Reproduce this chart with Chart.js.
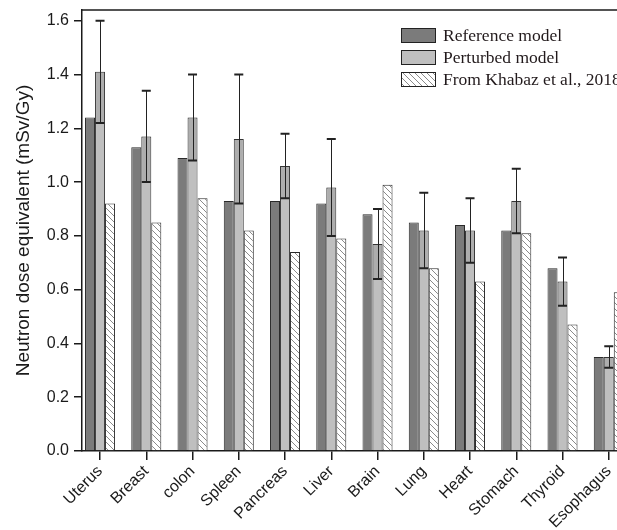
<!DOCTYPE html>
<html>
<head>
<meta charset="utf-8">
<script src="https://cdn.jsdelivr.net/npm/chart.js@4/dist/chart.umd.min.js"></script>
<style>
html,body{margin:0;padding:0;background:#fff;overflow:hidden;width:617px;height:530px;}
canvas{display:block;}
</style>
</head>
<body>
<canvas id="c" width="617" height="530"></canvas>
<script>
// ---- data ----
const categories = ["Uterus","Breast","colon","Spleen","Pancreas","Liver","Brain","Lung","Heart","Stomach","Thyroid","Esophagus"];
const referenceModel = [1.24,1.13,1.09,0.93,0.93,0.92,0.88,0.85,0.84,0.82,0.68,0.35];
const perturbedModel = [1.41,1.17,1.24,1.16,1.06,0.98,0.77,0.82,0.82,0.93,0.63,0.35];
const perturbedError = [0.19,0.17,0.16,0.24,0.12,0.18,0.13,0.14,0.12,0.12,0.09,0.04];
const khabaz2018     = [0.92,0.85,0.94,0.82,0.74,0.79,0.99,0.68,0.63,0.81,0.47,0.59];
const seriesNames = ["Reference model","Perturbed model","From Khabaz et al., 2018"];
const yTicks = [0,0.2,0.4,0.6,0.8,1.0,1.2,1.4,1.6];
const yTitle = "Neutron dose equivalent (mSv/Gy)";

// ---- hatch pattern ----
function makeHatch(){
  const s = 6, pc = document.createElement('canvas');
  pc.width = s; pc.height = s;
  const p = pc.getContext('2d');
  p.fillStyle = '#ffffff'; p.fillRect(0,0,s,s);
  p.strokeStyle = '#8a8a8a'; p.lineWidth = 1;
  p.beginPath();
  p.moveTo(0,0); p.lineTo(s,s);
  p.moveTo(-1,s-1); p.lineTo(1,s+1);
  p.moveTo(s-1,-1); p.lineTo(s+1,1);
  p.stroke();
  return document.getElementById('c').getContext('2d').createPattern(pc,'repeat');
}
const hatch = makeHatch();

const DARK = '#7b7b7b', LIGHT = '#bfbfbf', EDGE = '#2a2a2a';

const errorBars = {
  id:'errorBars',
  afterDatasetsDraw(chart){
    const ctx = chart.ctx, y = chart.scales.y;
    const meta = chart.getDatasetMeta(1);
    ctx.save();
    meta.data.forEach((bar,i)=>{
      const v = perturbedModel[i], e = perturbedError[i];
      const yTop = y.getPixelForValue(v+e), yLow = y.getPixelForValue(v-e), yv = y.getPixelForValue(v);
      const w = bar.width;
      ctx.fillStyle = 'rgba(0,0,0,0.09)';
      ctx.fillRect(bar.x - w/2 + 0.5, yv, w - 1, yLow - yv);
      ctx.strokeStyle = '#222'; ctx.lineWidth = 1;
      ctx.beginPath();
      ctx.moveTo(Math.round(bar.x)+0.5, yTop); ctx.lineTo(Math.round(bar.x)+0.5, yLow);
      ctx.stroke();
      ctx.lineWidth = 2;
      ctx.beginPath();
      ctx.moveTo(bar.x-4.5, yTop); ctx.lineTo(bar.x+4.5, yTop);
      ctx.moveTo(bar.x-4.5, yLow); ctx.lineTo(bar.x+4.5, yLow);
      ctx.stroke();
    });
    ctx.restore();
  }
};

const frame = {
  id:'frame',
  afterDraw(chart){
    const {ctx, chartArea:a} = chart;
    ctx.save();
    ctx.strokeStyle = '#1a1a1a'; ctx.lineWidth = 1.5;
    ctx.beginPath();
    ctx.moveTo(a.left, a.top); ctx.lineTo(a.right, a.top);
    ctx.stroke();
    // legend
    const fills = [DARK, LIGHT, hatch];
    const lx = a.left + 319, ly = a.top + 18, rowH = 22;
    ctx.font = '17.5px "Liberation Serif", "Times New Roman", serif';
    ctx.textBaseline = 'middle';
    ctx.textAlign = 'left';
    seriesNames.forEach((n,i)=>{
      const yy = ly + i*rowH;
      ctx.fillStyle = fills[i];
      ctx.fillRect(lx, yy, 35, 15);
      ctx.strokeStyle = '#222'; ctx.lineWidth = 1;
      ctx.strokeRect(lx+0.5, yy+0.5, 34, 14);
      ctx.fillStyle = '#221a1c';
      ctx.fillText(n, lx + 42, yy + 8.5);
    });
    ctx.restore();
  }
};

new Chart(document.getElementById('c'), {
  type:'bar',
  data:{
    labels: categories,
    datasets:[
      {label:seriesNames[0], data:referenceModel, backgroundColor:DARK, borderColor:EDGE, borderWidth:1},
      {label:seriesNames[1], data:perturbedModel, backgroundColor:LIGHT, borderColor:'#3a3a3a', borderWidth:1},
      {label:seriesNames[2], data:khabaz2018, backgroundColor:hatch, borderColor:EDGE, borderWidth:1}
    ]
  },
  options:{
    responsive:false,
    animation:false,
    devicePixelRatio:1,
    layout:{padding:{top:10,right:0,left:0,bottom:0}},
    datasets:{bar:{categoryPercentage:0.649, barPercentage:1.0}},
    plugins:{legend:{display:false}, tooltip:{enabled:false}},
    scales:{
      x:{
        offset:true,
        afterBuildTicks:(s)=>{ s._startValue = -0.39; s._valueRange = 11.568; },
        afterFit:(s)=>{ s.height = 79; s.paddingLeft = 0; s.paddingRight = 0; s.paddingTop = 0; s.paddingBottom = 0; },
        grid:{display:true, drawOnChartArea:false, drawTicks:true, tickLength:9, color:'#1a1a1a', lineWidth:1.5, offset:false},
        border:{display:true, color:'#1a1a1a', width:1.5},
        ticks:{autoSkip:false, minRotation:45, maxRotation:45, padding:2, color:'#1a1a1a',
               font:{family:'"Liberation Sans", Arial, sans-serif', size:16}}
      },
      y:{
        min:0, max:1.64,
        afterFit:(s)=>{ s.width = 82; s.paddingTop = 0; s.paddingBottom = 0; s.paddingLeft = 0; s.paddingRight = 0; },
        afterBuildTicks:(s)=>{ s.ticks = yTicks.map(v=>({value:v})); },
        grid:{display:true, drawOnChartArea:false, drawTicks:true, tickLength:8, color:'#1a1a1a', lineWidth:1.5},
        border:{display:true, color:'#1a1a1a', width:1.5},
        ticks:{padding:5, color:'#1a1a1a', callback:(v)=>Number(v).toFixed(1),
               font:{family:'"Liberation Sans", Arial, sans-serif', size:16}},
        title:{display:true, text:yTitle, color:'#1a1a1a', padding:{top:12,bottom:0},
               font:{family:'"Liberation Sans", Arial, sans-serif', size:19, weight:'normal'}}
      }
    }
  },
  plugins:[errorBars, frame]
});
</script>
</body>
</html>
